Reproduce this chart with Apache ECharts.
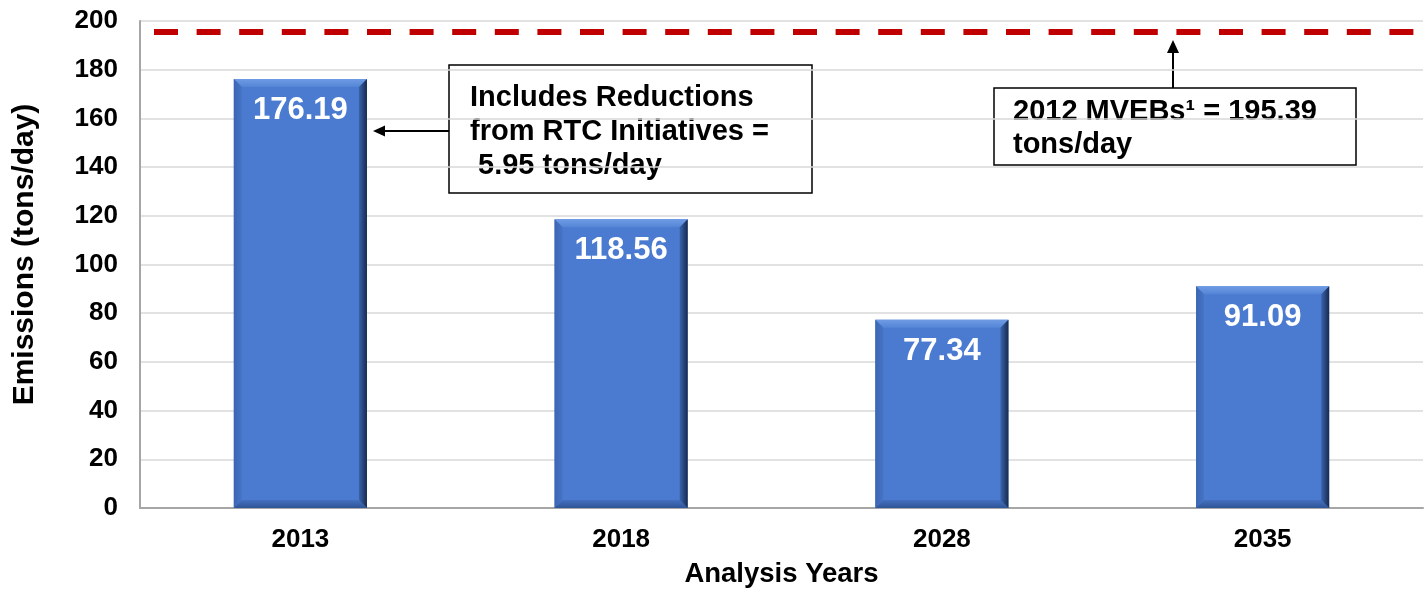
<!DOCTYPE html>
<html>
<head>
<meta charset="utf-8">
<script src="https://cdn.jsdelivr.net/npm/echarts@6/dist/echarts.min.js"></script>
<style>
html,body{margin:0;padding:0;background:#fff;}
#chart{width:1424px;height:598px;}
</style>
</head>
<body>
<div id="chart"></div>
<script>
const categories = ['2013', '2018', '2028', '2035'];
const emissions = [176.19, 118.56, 77.34, 91.09];
const budgetValue = 195.39;
const yTicks = [0, 20, 40, 60, 80, 100, 120, 140, 160, 180, 200];
const note1Lines = ['Includes Reductions', 'from RTC Initiatives =', ' 5.95 tons/day'];
const note2Lines = ['2012 MVEBs\u00B9 = 195.39', 'tons/day'];

const FONT = '"Liberation Sans", Arial, sans-serif';
const chart = echarts.init(document.getElementById('chart'));

function renderBar(params, api) {
  const idx = api.value(0);
  const v = api.value(1);
  const top = api.coord([idx, v]);
  const base = api.coord([idx, 0]);
  const w = api.size([1, 0])[0] * 0.415;
  const x0 = top[0] - w / 2, x1 = top[0] + w / 2, y0 = top[1], y1 = base[1];
  const b = 8;
  return {
    type: 'group',
    children: [
      { type: 'rect', shape: { x: x0, y: y0, width: w, height: y1 - y0 }, style: { fill: '#4a7bd0' } },
      { type: 'polygon', shape: { points: [[x0, y0], [x1, y0], [x1 - b, y0 + b], [x0 + b, y0 + b]] },
        style: { fill: new echarts.graphic.LinearGradient(0, 0, 0, 1, [{ offset: 0, color: '#6f9be4' }, { offset: 1, color: '#5485d6' }]) } },
      { type: 'polygon', shape: { points: [[x0, y0], [x0 + b, y0 + b], [x0 + b, y1 - b], [x0, y1]] },
        style: { fill: new echarts.graphic.LinearGradient(0, 0, 1, 0, [{ offset: 0, color: '#3c66b2' }, { offset: 1, color: '#4674c6' }]) } },
      { type: 'polygon', shape: { points: [[x0, y1], [x1, y1], [x1 - b, y1 - b], [x0 + b, y1 - b]] },
        style: { fill: new echarts.graphic.LinearGradient(0, 0, 0, 1, [{ offset: 0, color: '#4470bf' }, { offset: 1, color: '#2f5597' }]) } },
      { type: 'polygon', shape: { points: [[x1, y0], [x1, y1], [x1 - b, y1 - b], [x1 - b, y0 + b]] },
        style: { fill: new echarts.graphic.LinearGradient(0, 0, 1, 0, [{ offset: 0, color: '#3a64ad' }, { offset: 1, color: '#172a4e' }]) } },
      { type: 'text', x: top[0], y: y0 + 16,
        style: { text: v.toFixed(2), fill: '#ffffff', font: 'bold 31px ' + FONT, align: 'center', verticalAlign: 'top' } }
    ]
  };
}

const graphics = [];
// Note box 1
graphics.push({ type: 'rect', shape: { x: 449, y: 65, width: 363, height: 128 }, style: { fill: 'none', stroke: '#000', lineWidth: 1.5 } });
const n1y = [98, 132, 166];
note1Lines.forEach((t, i) => graphics.push({ type: 'text', x: 470, y: n1y[i], style: { text: t, fill: '#000', font: 'bold 29px ' + FONT, align: 'left', verticalAlign: 'middle' } }));
graphics.push({ type: 'line', shape: { x1: 449, y1: 131, x2: 382, y2: 131 }, style: { stroke: '#000', lineWidth: 2 } });
graphics.push({ type: 'polygon', shape: { points: [[373, 131], [385, 125.5], [385, 136.5]] }, style: { fill: '#000' } });
// Note box 2
graphics.push({ type: 'rect', shape: { x: 994, y: 88, width: 362, height: 77 }, style: { fill: 'none', stroke: '#000', lineWidth: 1.5 } });
const n2y = [112, 145];
note2Lines.forEach((t, i) => graphics.push({ type: 'text', x: 1013, y: n2y[i], style: { text: t, fill: '#000', font: 'bold 29px ' + FONT, align: 'left', verticalAlign: 'middle' } }));
graphics.push({ type: 'line', shape: { x1: 1173, y1: 88, x2: 1173, y2: 50 }, style: { stroke: '#000', lineWidth: 2 } });
graphics.push({ type: 'polygon', shape: { points: [[1173, 40], [1167, 53], [1179, 53]] }, style: { fill: '#000' } });

chart.setOption({
  animation: false,
  backgroundColor: '#ffffff',
  grid: { left: 140, right: 1, top: 21, bottom: 90 },
  xAxis: {
    type: 'category',
    data: categories,
    axisLine: { lineStyle: { color: '#a6a6a6', width: 2 } },
    axisTick: { show: false },
    axisLabel: { color: '#000', fontSize: 26, fontWeight: 'bold', fontFamily: FONT, margin: 19 },
    name: 'Analysis Years',
    nameLocation: 'middle',
    nameGap: 52,
    nameTextStyle: { color: '#000', fontSize: 27.5, fontWeight: 'bold', fontFamily: FONT }
  },
  yAxis: {
    type: 'value',
    min: yTicks[0],
    max: yTicks[yTicks.length - 1],
    interval: yTicks[1] - yTicks[0],
    axisLine: { show: true, lineStyle: { color: '#a6a6a6', width: 2 } },
    axisTick: { show: false },
    splitLine: { lineStyle: { color: '#d9d9d9', width: 1.5 } },
    axisLabel: { color: '#000', fontSize: 26, fontWeight: 'bold', fontFamily: FONT, margin: 22 },
    name: 'Emissions (tons/day)',
    nameLocation: 'middle',
    nameGap: 100,
    nameTextStyle: { color: '#000', fontSize: 30, fontWeight: 'bold', fontFamily: FONT, padding: [0, 0, 0, 20] }
  },
  series: [
    {
      type: 'custom',
      renderItem: renderBar,
      data: emissions.map((v, i) => [i, v]),
      z: 3
    },
    {
      type: 'line',
      data: categories.map(() => null),
      silent: true,
      markLine: {
        silent: true,
        symbol: 'none',
        label: { show: false },
        lineStyle: { color: '#c00000', width: 6, type: [24, 18.6], dashOffset: 28.6 },
        data: [{ yAxis: budgetValue }]
      }
    }
  ],
  graphic: graphics
});
</script>
</body>
</html>
